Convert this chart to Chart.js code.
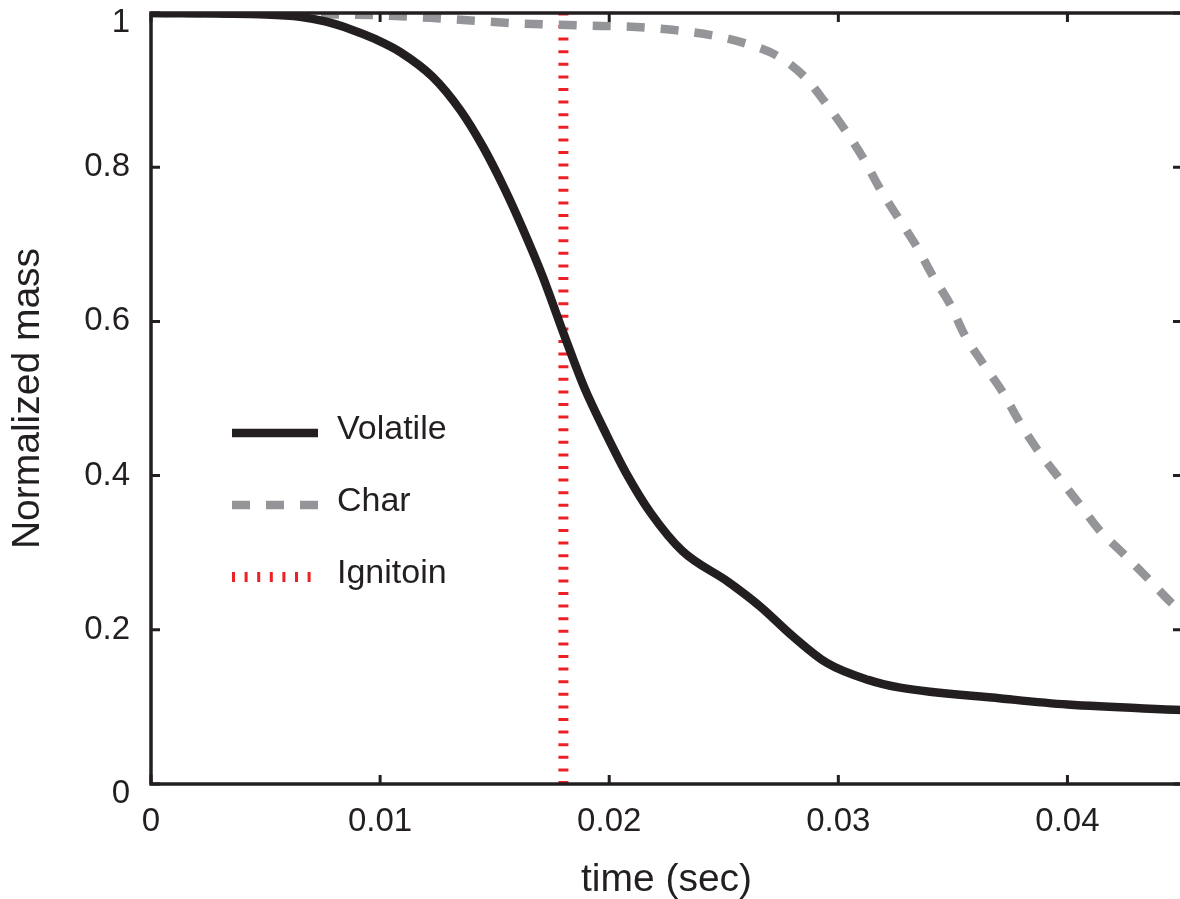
<!DOCTYPE html>
<html>
<head>
<meta charset="utf-8">
<script src="https://cdn.jsdelivr.net/npm/chart.js@4.4.1/dist/chart.umd.min.js"></script>
<style>
  html, body { margin: 0; padding: 0; background: #fff; overflow: hidden; }
  #wrap { position: absolute; left: 0; top: 0; }
</style>
</head>
<body>
<div id="wrap"><canvas id="mass-chart" width="1184" height="899"></canvas></div>
<script>
// Values
const volatileTime = [0, 0.005, 0.0065, 0.0076, 0.0087, 0.0098, 0.0109, 0.0123, 0.0135, 0.0145, 0.0154,
    0.0162, 0.0171, 0.018, 0.0189, 0.0199, 0.0208, 0.0218, 0.0232, 0.0252, 0.0266,
    0.028, 0.0295, 0.0313, 0.0327, 0.0371, 0.04, 0.045];
const volatileMass = [1.0, 0.998, 0.995, 0.989, 0.979, 0.966, 0.949, 0.917, 0.874, 0.826, 0.774,
    0.722, 0.658, 0.585, 0.515, 0.452, 0.400, 0.352, 0.302, 0.262, 0.230,
    0.192, 0.157, 0.135, 0.125, 0.111, 0.103, 0.096];

const charTime = [0, 0.005, 0.01, 0.0126, 0.0157, 0.0186, 0.0216, 0.0245, 0.0259, 0.0273,
    0.0285, 0.0294, 0.0303, 0.0311, 0.0318, 0.0326, 0.0334, 0.0341, 0.0349, 0.0355,
    0.0363, 0.0372, 0.0379, 0.0387, 0.0396, 0.0405, 0.0414, 0.0424, 0.0435, 0.0445, 0.045];
const charMass = [1.0, 0.999, 0.997, 0.993, 0.987, 0.984, 0.981, 0.971, 0.961, 0.945,
    0.918, 0.885, 0.848, 0.811, 0.773, 0.735, 0.698, 0.660, 0.621, 0.583,
    0.546, 0.507, 0.470, 0.433, 0.398, 0.364, 0.329, 0.300, 0.267, 0.236, 0.223];

const ignitionTime = 0.018;
const ignitionMass = [0, 1];

const xTicks = [0, 0.01, 0.02, 0.03, 0.04];
const xTickLabels = ["0", "0.01", "0.02", "0.03", "0.04"];
const yTicks = [0, 0.2, 0.4, 0.6, 0.8, 1];
const yTickLabels = ["0", "0.2", "0.4", "0.6", "0.8", "1"];

const seriesNames = ["Volatile", "Char", "Ignitoin"];

const ink = "#231f20";
const gray = "#939598";
const red = "#ed2024";
const fontFamily = "'Liberation Sans', Arial, sans-serif";

function toPoints(xs, ys) {
    return xs.map((x, i) => ({ x: x, y: ys[i] }));
}

// End labels of the y axis sit a little lower than their ticks in the original
function isEndTick(value) {
    return value === yTicks[0] || value === yTicks[yTicks.length - 1];
}

// Draws the axes box with inward tick marks on all four sides
const boxPlugin = {
    id: "boxPlugin",
    afterDatasetsDraw(chart) {
        const ctx = chart.ctx;
        const area = chart.chartArea;
        const xs = chart.scales.x;
        const ys = chart.scales.y;
        ctx.save();
        ctx.strokeStyle = ink;
        ctx.lineWidth = 3.5;
        ctx.strokeRect(area.left, area.top, area.right - area.left, area.bottom - area.top);
        ctx.lineWidth = 3;
        ctx.beginPath();
        xTicks.forEach(v => {
            const px = xs.getPixelForValue(v);
            ctx.moveTo(px, area.bottom);
            ctx.lineTo(px, area.bottom - 9);
            ctx.moveTo(px, area.top);
            ctx.lineTo(px, area.top + 9);
        });
        yTicks.forEach(v => {
            const py = ys.getPixelForValue(v);
            ctx.moveTo(area.left, py);
            ctx.lineTo(area.left + 9, py);
            ctx.moveTo(area.right, py);
            ctx.lineTo(area.right - 9, py);
        });
        ctx.stroke();
        ctx.restore();
    }
};

// Legend inside the plot, drawn from the dataset styles
const legendPlugin = {
    id: "legendPlugin",
    afterDraw(chart) {
        const ctx = chart.ctx;
        const rows = [439, 511, 583];
        ctx.save();
        chart.data.datasets.forEach((ds, i) => {
            const lineY = rows[i] - 6;
            ctx.beginPath();
            ctx.strokeStyle = ds.borderColor;
            ctx.lineWidth = ds.borderWidth;
            ctx.lineCap = "butt";
            ctx.setLineDash(ds.borderDash || []);
            ctx.moveTo(232, lineY);
            ctx.lineTo(318, lineY);
            ctx.stroke();
            ctx.setLineDash([]);
            ctx.fillStyle = ink;
            ctx.font = "34px " + fontFamily;
            ctx.textBaseline = "alphabetic";
            ctx.fillText(ds.label, 337, rows[i]);
        });
        ctx.restore();
    }
};

const chart = new Chart(document.getElementById("mass-chart"), {
    type: "line",
    data: {
        datasets: [
            {
                label: seriesNames[0],
                data: toPoints(volatileTime, volatileMass),
                borderColor: ink,
                borderWidth: 8.5,
                pointRadius: 0,
                cubicInterpolationMode: "monotone",
                fill: false
            },
            {
                label: seriesNames[1],
                data: toPoints(charTime, charMass),
                borderColor: gray,
                borderWidth: 8.5,
                borderDash: [18, 16],
                pointRadius: 0,
                cubicInterpolationMode: "monotone",
                fill: false
            },
            {
                label: seriesNames[2],
                data: toPoints([ignitionTime, ignitionTime], ignitionMass),
                borderColor: red,
                borderWidth: 10,
                borderDash: [3, 9.6],
                pointRadius: 0,
                fill: false
            }
        ]
    },
    options: {
        responsive: false,
        animation: false,
        layout: { padding: { top: 13, right: 2, left: 0, bottom: 0 } },
        plugins: {
            legend: { display: false },
            tooltip: { enabled: false }
        },
        scales: {
            x: {
                type: "linear",
                min: 0,
                max: 0.045,
                grid: { display: false, drawTicks: false },
                border: { display: false },
                afterBuildTicks: scale => { scale.ticks = xTicks.map(v => ({ value: v })); },
                afterFit: scale => {
                    scale.height = 115;
                    scale.paddingLeft = 0;
                    scale.paddingRight = 0;
                },
                ticks: {
                    autoSkip: false,
                    maxRotation: 0,
                    padding: 18,
                    color: ink,
                    font: { size: 33, family: fontFamily },
                    callback: value => xTickLabels[xTicks.indexOf(value)]
                },
                title: {
                    display: true,
                    text: "time (sec)",
                    color: ink,
                    font: { size: 39, family: fontFamily },
                    padding: { top: 0, bottom: -5 }
                }
            },
            y: {
                type: "linear",
                min: 0,
                max: 1,
                grid: { display: false, drawTicks: false },
                border: { display: false },
                afterBuildTicks: scale => { scale.ticks = yTicks.map(v => ({ value: v })); },
                afterFit: scale => {
                    scale.width = 151;
                    scale.paddingTop = 0;
                    scale.paddingBottom = 0;
                },
                ticks: {
                    autoSkip: false,
                    padding: 21,
                    color: ink,
                    font: ctx => ({
                        size: 33,
                        family: fontFamily,
                        lineHeight: ctx.tick && isEndTick(ctx.tick.value) ? 0.6 : 1.2
                    }),
                    callback: value => {
                        const label = yTickLabels[yTicks.indexOf(value)];
                        return isEndTick(value) ? ["", label] : label;
                    }
                },
                title: {
                    display: true,
                    text: "Normalized mass",
                    color: ink,
                    font: { size: 39, family: fontFamily },
                    padding: { top: 5, bottom: 0 }
                }
            }
        }
    },
    plugins: [boxPlugin, legendPlugin]
});
</script>
</body>
</html>
